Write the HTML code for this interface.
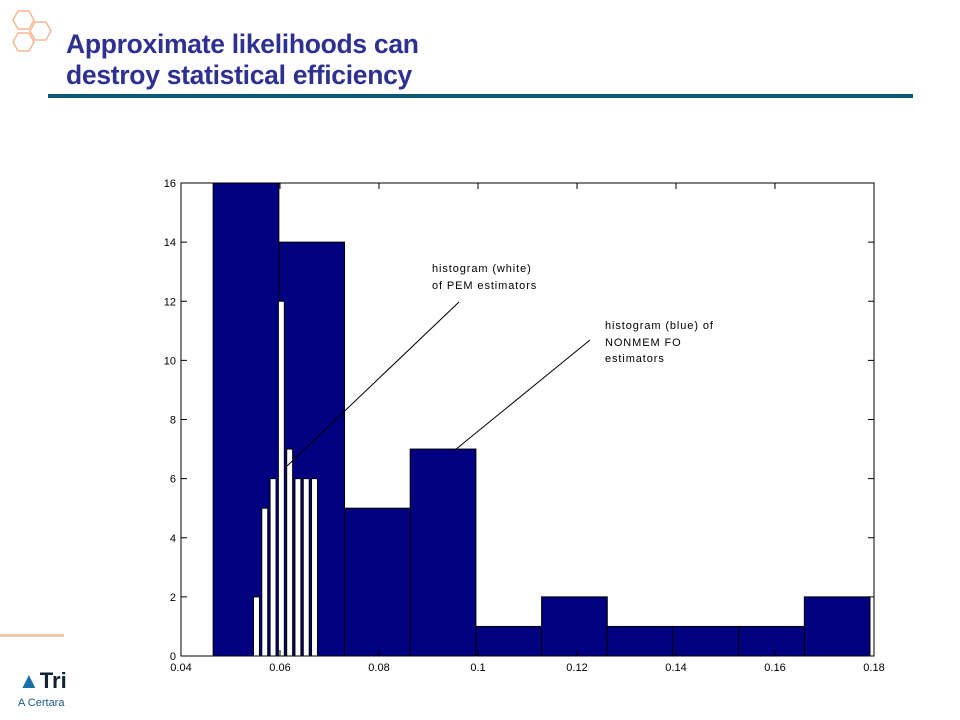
<!DOCTYPE html>
<html><head><meta charset="utf-8"><style>
body{margin:0;width:960px;height:720px;background:#fff;overflow:hidden;position:relative;font-family:"Liberation Sans",sans-serif}
.title{position:absolute;left:66px;top:29px;font-size:26.5px;font-weight:bold;color:#2e3192;line-height:31px;letter-spacing:-0.3px}
.rule{position:absolute;left:48px;top:94px;width:865px;height:4px;background:#0b5a7a}
</style></head><body>
<svg style="position:absolute;left:8px;top:8px" width="50" height="50">
<g fill="none" stroke="#f4b994" stroke-width="1.5">
<polygon points="10,3 21,3 26,12 21,21 10,21 5,12"/>
<polygon points="27,14 38,14 43,23 38,32 27,32 22,23"/>
<polygon points="10,25 21,25 26,34 21,43 10,43 5,34"/>
</g></svg>
<div class="title">Approximate likelihoods can<br>destroy statistical efficiency</div>
<div class="rule"></div>
<div style="position:absolute;left:0;top:634px;width:64px;height:3px;background:#f0c8a8"></div>
<div style="position:absolute;left:18px;top:668px;font-size:22px;font-weight:bold;color:#123;">
<span style="color:#1a6fa8">▲</span>Tri</div>
<div style="position:absolute;left:18px;top:697px;font-size:11px;color:#1a5a8a">A Certara</div>
<svg id="chart" style="position:absolute;left:0;top:0" width="960" height="720"></svg>
<script>
const blueCenters=[0.05313,0.06640,0.07967,0.09294,0.10621,0.11948,0.13275,0.14602,0.15929,0.17256];
const blueCounts=[16,14,5,7,1,2,1,1,1,2];
const blueWidth=0.01327;
const whiteCenters=[0.05525,0.05692,0.05860,0.06027,0.06195,0.06362,0.06530,0.06697];
const whiteCounts=[2,5,6,12,7,6,6,6];
const whiteWidth=0.0012;
const xTicks=[0.04,0.06,0.08,0.1,0.12,0.14,0.16,0.18];
const xTickLabels=["0.04","0.06","0.08","0.1","0.12","0.14","0.16","0.18"];
const yTicks=[0,2,4,6,8,10,12,14,16];
const L=181,R=874,T=183,B=656;
const sx=v=>L+(v-0.04)/(0.14)*(R-L);
const sy=v=>B-v/16*(B-T);
const svg=document.getElementById('chart');const NS='http://www.w3.org/2000/svg';
function mk(t,a,p){const e=document.createElementNS(NS,t);for(const k in a)e.setAttribute(k,a[k]);(p||svg).appendChild(e);return e;}
mk('rect',{x:L,y:T,width:R-L,height:B-T,fill:'#fff',stroke:'none'});
blueCenters.forEach((c,i)=>{const r=mk('rect',{x:sx(c-blueWidth/2),y:sy(blueCounts[i]),width:sx(c+blueWidth/2)-sx(c-blueWidth/2),height:B-sy(blueCounts[i]),fill:'#000080',stroke:'#000',"stroke-width":1});

});
whiteCenters.forEach((c,i)=>{const r=mk('rect',{x:sx(c-whiteWidth/2),y:sy(whiteCounts[i]),width:sx(c+whiteWidth/2)-sx(c-whiteWidth/2),height:B-sy(whiteCounts[i]),fill:'#fff',stroke:'#000',"stroke-width":1});

});
mk('rect',{x:L,y:T,width:R-L,height:B-T,fill:'none',stroke:'#000',"stroke-width":1});
xTicks.forEach((v,i)=>{const x=sx(v);mk('line',{x1:x,y1:B,x2:x,y2:B-6,stroke:'#000'});mk('line',{x1:x,y1:T,x2:x,y2:T+6,stroke:'#000'});
const t=mk('text',{x:x,y:B+15,"text-anchor":"middle","font-size":11,"font-family":"Liberation Sans, sans-serif"});t.textContent=xTickLabels[i];

});
yTicks.forEach(v=>{const y=sy(v);mk('line',{x1:L,y1:y,x2:L+6,y2:y,stroke:'#000'});mk('line',{x1:R,y1:y,x2:R-6,y2:y,stroke:'#000'});
const t=mk('text',{x:L-5,y:y+4,"text-anchor":"end","font-size":11,"font-family":"Liberation Sans, sans-serif"});t.textContent=v;

});
mk('line',{x1:459,y1:302,x2:287,y2:466,stroke:'#000'});
mk('line',{x1:590,y1:340,x2:455,y2:450,stroke:'#000'});
function lab(x,y,s){const t=mk('text',{x:x,y:y,"font-size":11,"letter-spacing":"0.9","font-family":"Liberation Sans, sans-serif"});t.textContent=s;

}
lab(432,272,'histogram (white)');lab(432,289,'of PEM estimators');
lab(605,329,'histogram (blue) of');lab(605,346,'NONMEM FO');lab(605,362,'estimators');
</script>
</body></html>
